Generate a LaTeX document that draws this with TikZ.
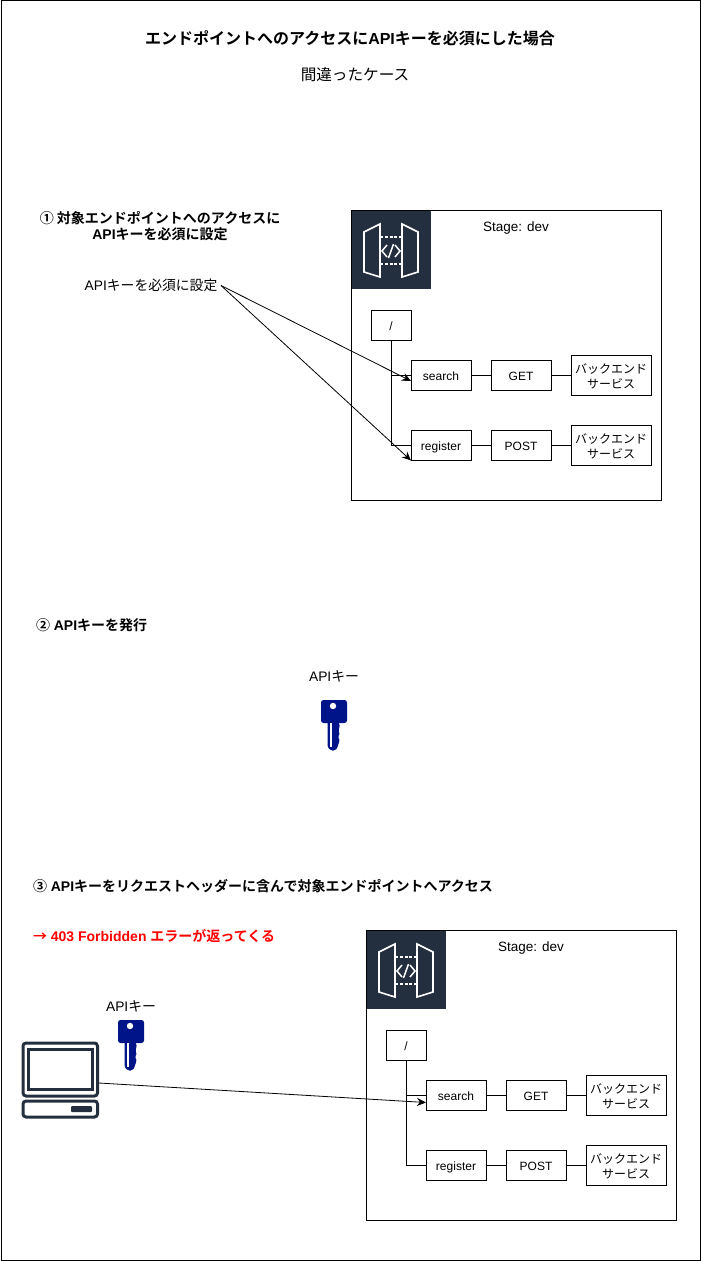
\documentclass[tikz,border=0pt]{standalone}
\usepackage{fontspec}
\setmainfont{Liberation Sans}
\newfontfamily\jpfont{Noto Sans CJK JP}[BoldFont={Noto Sans CJK JP Bold}]
\newcommand{\jp}[1]{{\jpfont #1}}
\usetikzlibrary{arrows.meta}
\definecolor{awsnavy}{HTML}{232F3E}
\definecolor{keyblue}{HTML}{001489}
\tikzset{
  every node/.style={inner sep=0pt, outer sep=0pt, align=center},
  boxnode/.style={draw=black, line width=1pt, minimum width=#1, minimum height=30pt, text height=11pt, text depth=2pt, font=\fontsize{12}{14}\selectfont},
  boxnode/.default=60pt,
  backend/.style={boxnode=80pt, minimum height=40pt, text height=26.5pt, text depth=, font=\fontsize{12}{15}\selectfont},
  stagebox/.style={draw=black, line width=1pt, minimum width=310pt, minimum height=290pt, anchor=north west},
  plainlabel/.style={font=\fontsize{13.8}{18}\selectfont},
  stagename/.style={font=\fontsize{13.5}{16}\selectfont},
  heading/.style={font=\bfseries\fontsize{14}{16}\selectfont},
  link/.style={draw=black, line width=1pt},
  pointer/.style={draw=black, line width=0.8pt, -{Stealth[length=9pt,width=8pt]}},
  gateway/.pic={
    \fill [awsnavy] (0,-0.5) rectangle (79,78);
    \draw [white, line width=1.6pt, line join=miter] (12,21) -- (28,13) -- (28,66) -- (12,61) -- cycle;
    \draw [white, line width=1.6pt, line join=miter] (50,13) -- (66,21) -- (66,61) -- (50,66) -- cycle;
    \draw [white, line width=1.6pt, dash pattern=on 3pt off 1.8pt] (28,26) -- (50,26) (28,53) -- (50,53);
    \draw [white, line width=1.5pt] (35,34) -- (30,40) -- (35,46) (43,34) -- (48,40) -- (43,46) (41.5,33) -- (36.5,47);
  },
  apikey/.pic={
    \fill [keyblue, rounded corners=2.5pt] (-13,-25) rectangle (13,-2);
    \fill [keyblue, rounded corners=1.5pt] (-6.5,-5) -- (-6.5,22) -- (-3,25.5) -- (1,25.5) -- (4,22) -- (4,19) -- (6,16) -- (4,12) -- (6,8) -- (4,5) -- (6,2) -- (4,-5) -- cycle;
    \fill [white] (-1,-19) circle (3.2);
    \fill [white] (-4.5,-2) rectangle (-2.5,22);
  },
  terminal/.pic={
    \draw [awsnavy, line width=3pt, rounded corners=3pt] (-37,-37) rectangle (37.5,16);
    \draw [awsnavy, line width=3pt] (-32,-31) rectangle (32,9);
    \draw [awsnavy, line width=3pt, rounded corners=3pt] (-37,21) rectangle (37.5,37);
    \fill [awsnavy, rounded corners=1pt] (11,26) rectangle (32,32);
  },
}
\begin{document}
\begin{tikzpicture}[x=1pt, y=-1pt]
  \useasboundingbox (0,0) rectangle (701,1261);
  \draw [black, line width=1pt] (1,0.5) rectangle (700,1260.5);

  \node [font=\bfseries\fontsize{16}{18}\selectfont] (title) at (350,38.5) {\jp{エンドポイントへのアクセスに}API\jp{キーを必須にした場合}};
  \node [font=\fontsize{15.6}{18}\selectfont] (subtitle) at (355,74.5) {\jp{間違ったケース}};

  % first stage
  \node [heading] (stepone) at (160,226) {\jp{① 対象エンドポイントへのアクセスに}\\API\jp{キーを必須に設定}};
  \node [plainlabel] (setting) at (151,285.5) {API\jp{キーを必須に設定}};
  \coordinate (settingend) at (221,285.5);
  \node [stagebox] (stageA) at (351,210.5) {};
  \pic at (352,211) {gateway};
  \node [stagename] (stageAname) at (516,228) {Stage: dev};
  \node [boxnode=40pt] (rootA) at (391,325.5) {/};
  \node [boxnode] (searchA) at (441,375.5) {search};
  \node [boxnode] (getA) at (521,375.5) {GET};
  \node [backend] (backA) at (611,375.5) {\jp{バックエンド}\\\jp{サービス}};
  \node [boxnode] (registerA) at (441,445.5) {register};
  \node [boxnode] (postA) at (521,445.5) {POST};
  \node [backend] (backB) at (611,445.5) {\jp{バックエンド}\\\jp{サービス}};
  \draw [link] (rootA.south) |- (searchA.west);
  \draw [link] (rootA.south) |- (registerA.west);
  \draw [link] (searchA) -- (getA);
  \draw [link] (getA) -- (backA);
  \draw [link] (registerA) -- (postA);
  \draw [link] (postA) -- (backB);
  \draw [pointer] (settingend) -- ([yshift=-5.5pt]searchA.west);
  \draw [pointer] (settingend) -- (registerA.south west);

  % second step
  \node [heading, anchor=west] (steptwo) at (36,625.5) {\jp{②} API\jp{キーを発行}};
  \node [plainlabel] (keyAname) at (334,676) {API\jp{キー}};
  \pic at (334,725) {apikey};

  % third step
  \node [heading, anchor=west] (stepthree) at (33,886) {\jp{③} API\jp{キーをリクエストヘッダーに含んで対象エンドポイントへアクセス}};
  \node [heading, text=red, anchor=west] (result) at (33,936) {\jp{→} 403 Forbidden \jp{エラーが返ってくる}};
  \node [plainlabel] (keyBname) at (131,1006) {API\jp{キー}};
  \pic at (131,1045) {apikey};
  \pic at (60,1080) {terminal};
  \coordinate (client) at (99,1083);
  \node [stagebox] (stageB) at (366,930.5) {};
  \pic at (367,931) {gateway};
  \node [stagename] (stageBname) at (531,948) {Stage: dev};
  \node [boxnode=40pt] (rootB) at (406,1045.5) {/};
  \node [boxnode] (searchB) at (456,1095.5) {search};
  \node [boxnode] (getB) at (536,1095.5) {GET};
  \node [backend] (backC) at (626,1095.5) {\jp{バックエンド}\\\jp{サービス}};
  \node [boxnode] (registerB) at (456,1165.5) {register};
  \node [boxnode] (postB) at (536,1165.5) {POST};
  \node [backend] (backD) at (626,1165.5) {\jp{バックエンド}\\\jp{サービス}};
  \draw [link] (rootB.south) |- (searchB.west);
  \draw [link] (rootB.south) |- (registerB.west);
  \draw [link] (searchB) -- (getB);
  \draw [link] (getB) -- (backC);
  \draw [link] (registerB) -- (postB);
  \draw [link] (postB) -- (backD);
  \draw [pointer] (client) -- ([yshift=-7pt]searchB.west);
\end{tikzpicture}
\end{document}
